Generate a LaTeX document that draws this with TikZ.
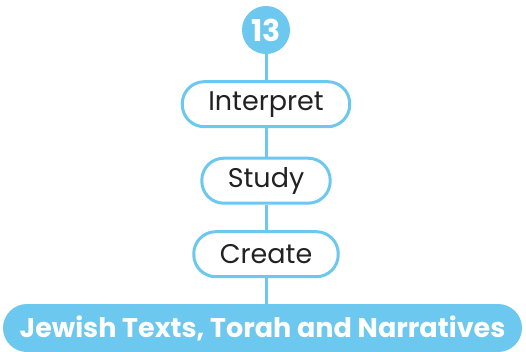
\documentclass[tikz,border=0pt]{standalone}
\usepackage{fontspec}
\setmainfont{Poppins}
\usepackage{xcolor}
\usetikzlibrary{positioning}
\definecolor{skyblue}{HTML}{6CC8EE}
\definecolor{inkdark}{HTML}{222222}
\begin{document}
\begin{tikzpicture}[
    node distance=25pt,
    pill/.style={draw=skyblue, line width=3pt, rounded corners=22pt, fill=white, text=inkdark,
        minimum height=45pt, inner xsep=26pt, font=\fontsize{27}{30}\selectfont},
    badge/.style={circle, fill=skyblue, text=white, minimum size=48pt, inner sep=0pt,
        font=\fontsize{30}{32}\selectfont\bfseries},
    banner/.style={fill=skyblue, text=white, rounded corners=24pt, minimum height=48pt,
        minimum width=519pt, font=\fontsize{27}{30}\selectfont\bfseries},
    link/.style={draw=skyblue, line width=3pt},
]
    \useasboundingbox (0,0) rectangle (526pt,-352pt);
    \node[badge] (num) at (266pt,-30pt) {13};
    \node[pill, below=26pt of num] (interpret) {Interpret};
    \node[pill, below=28.5pt of interpret] (study) {Study};
    \node[pill, below=25.5pt of study] (create) {Create};
    \node[banner] (texts) at (262.5pt,-328pt) {Jewish Texts, Torah and Narratives};

    \draw[link] (num) -- (interpret);
    \draw[link] (interpret) -- (study);
    \draw[link] (study) -- (create);
    \draw[link] (create) -- (create |- texts.north);
\end{tikzpicture}
\end{document}
